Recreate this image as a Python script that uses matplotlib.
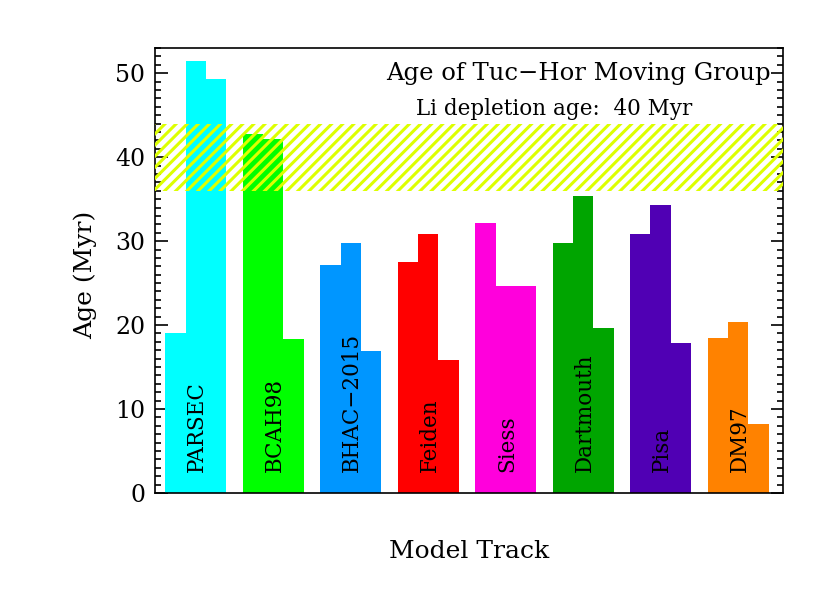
import matplotlib
matplotlib.use("Agg")
import matplotlib.pyplot as plt
import numpy as np
from matplotlib.ticker import MultipleLocator
from matplotlib.transforms import offset_copy

# ages (Myr) from each model track, three estimates per track
models = ["PARSEC", "BCAH98", "BHAC\u22122015", "Feiden", "Siess", "Dartmouth", "Pisa", "DM97"]
age_a = [19.1, 42.8, 27.1, 27.5, 32.2, 29.8, 30.9, 18.5]
age_b = [51.4, 42.2, 29.8, 30.8, 24.6, 35.4, 34.3, 20.4]
age_c = [49.25, 18.4, 16.9, 15.9, 24.6, 19.7, 17.9, 8.2]
colors = ["#00ffff", "#00ff00", "#0096ff", "#ff0000", "#ff00dc", "#00a500", "#5000b4", "#ff8200"]

# lithium depletion age range
li_lo, li_hi = 36, 44

plt.rcParams["font.family"] = ["DejaVu Serif"]
plt.rcParams["hatch.linewidth"] = 2.2

fig = plt.figure(figsize=(8.3, 5.93), dpi=100)
ax = fig.add_axes([155/830, 100/593, 628/830, 445/593])

spacing = 3.8
for i, name in enumerate(models):
    x0 = 1 + spacing * i
    ax.bar([x0, x0 + 1, x0 + 2], [age_a[i], age_b[i], age_c[i]], width=1.0,
           color=colors[i], linewidth=0, zorder=2)
    ax.text(x0 + 1, 2.5, name, rotation=90, rotation_mode="anchor",
            ha="left", va="baseline", fontsize=15.5, zorder=5,
            transform=offset_copy(ax.transData, fig=fig, x=7.5, units="dots"))

ax.axhspan(li_lo, li_hi, facecolor="none", edgecolor="#ddff00", hatch="///",
           linewidth=0, zorder=3)

ax.set_xlim(0, 30.8)
ax.set_ylim(0, 53)
ax.set_xticks([])
ax.yaxis.set_major_locator(MultipleLocator(10))
ax.yaxis.set_minor_locator(MultipleLocator(1))
ax.tick_params(axis="y", which="both", direction="in", left=True, right=True,
               width=1.2, labelsize=17, pad=7)
ax.tick_params(axis="y", which="major", length=9)
ax.tick_params(axis="y", which="minor", length=4.5)
for s in ax.spines.values():
    s.set_linewidth(1.2)

ticks = ax.yaxis.get_major_ticks()
ticks[0].label1.set_va("baseline")

ax.set_xlabel("Model Track", fontsize=18, va="baseline")
ax.xaxis.set_label_coords(0.5, (493 - 558) / 445)
ax.set_ylabel("Age (Myr)", fontsize=18, va="baseline")
ax.yaxis.set_label_coords((91.7 - 155) / 628, (493 - 274.5) / 445)

ax.text((771 - 155) / 628, (493 - 80) / 445, "Age of Tuc\u2212Hor Moving Group",
        transform=ax.transAxes, ha="right", va="baseline", fontsize=17.5, zorder=6)
ax.text((554 - 155) / 628, (493 - 115.5) / 445, "Li depletion age:  40 Myr",
        transform=ax.transAxes, ha="center", va="baseline", fontsize=15.5, zorder=6)

fig.savefig("out.png", dpi=100)
